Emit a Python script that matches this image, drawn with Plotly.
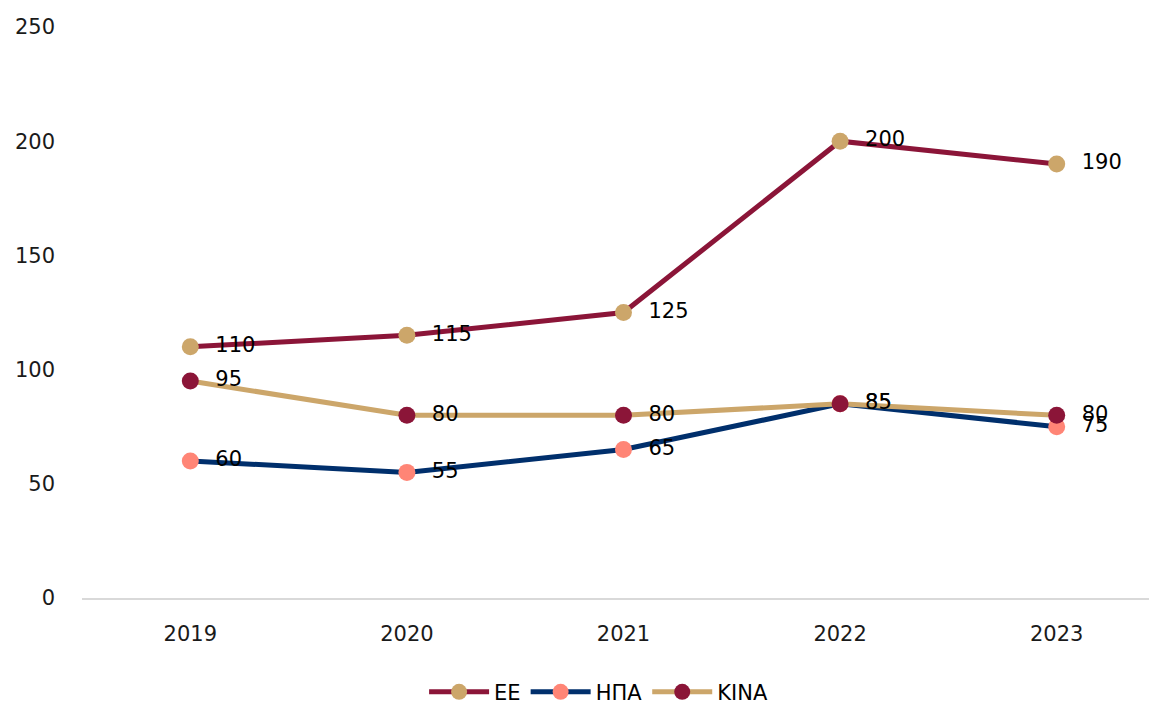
import plotly.graph_objects as go

years = ["2019", "2020", "2021", "2022", "2023"]
ee = [110, 115, 125, 200, 190]
ipa = [60, 55, 65, 85, 75]
kina = [95, 80, 80, 85, 80]

MAROON = "#8B1538"
TAN = "#CCA66A"
NAVY = "#002F6C"
SALMON = "#FF8576"
FONT = "DejaVu Sans"

fig = go.Figure()
series = [
    ("ΕΕ", ee, MAROON, TAN),
    ("ΗΠΑ", ipa, NAVY, SALMON),
    ("ΚΙΝΑ", kina, TAN, MAROON),
]
for name, vals, lc, mc in series:
    fig.add_trace(go.Scatter(
        x=years, y=vals, name=name, mode="lines+markers+text",
        line=dict(color=lc, width=5),
        marker=dict(color=mc, size=17),
        text=["  " + str(v) for v in vals], textposition="middle right",
        textfont=dict(family=FONT, size=21, color="#000000"),
        cliponaxis=False,
    ))

fig.update_layout(
    width=1157, height=702,
    margin=dict(l=74, r=0, t=19, b=112, autoexpand=False),
    plot_bgcolor="white", paper_bgcolor="white",
    font=dict(family=FONT, size=21, color="#1a1a1a"),
    showlegend=True,
    legend=dict(orientation="h", x=0.477, xanchor="center", y=-0.165, yanchor="middle",
                font=dict(family=FONT, size=21, color="#000000"),
                itemwidth=60, traceorder="normal"),
    xaxis=dict(type="category", range=[-0.5, 4.5], showgrid=False,
               showline=True, linecolor="#D9D9D9", linewidth=1.5,
               ticks="", ticklabelstandoff=16, zeroline=False, automargin=False),
    yaxis=dict(range=[0, 250], tickvals=[0, 50, 100, 150, 200, 250],
               showgrid=False, zeroline=False, showline=False, ticks="",
               ticklabelstandoff=26, automargin=False),
)

fig.write_html("out.html")
